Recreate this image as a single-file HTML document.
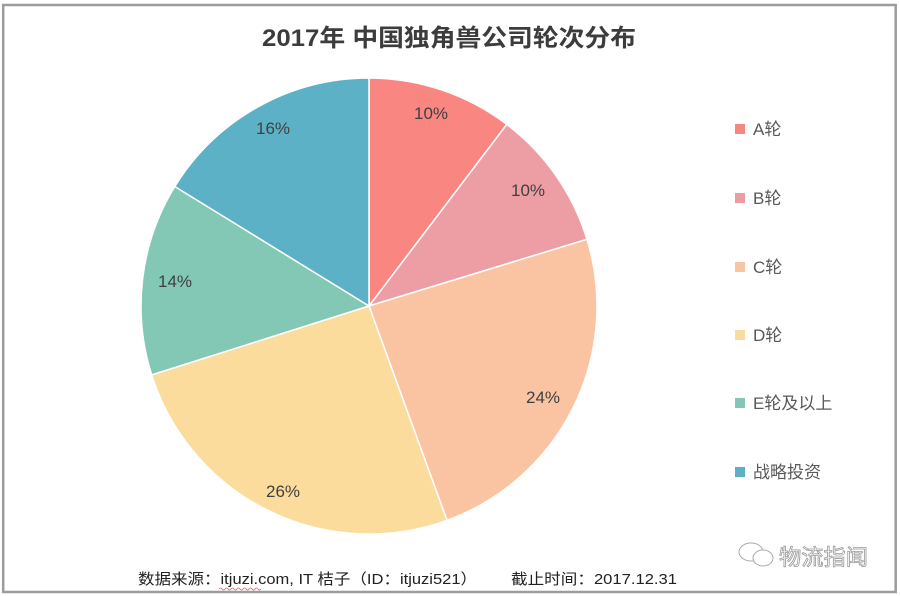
<!DOCTYPE html>
<html><head><meta charset="utf-8"><style>
html,body{margin:0;padding:0;background:#fff;}
svg{display:block;}
text{font-family:"Liberation Sans","Noto Sans CJK SC",sans-serif;}
</style></head><body>
<svg width="900" height="596" viewBox="0 0 900 596" xmlns="http://www.w3.org/2000/svg">
<rect x="0" y="0" width="900" height="596" fill="#fff"/>
<rect x="3.2" y="5" width="892.5" height="587" fill="#fff" stroke="#9c9c9c" stroke-width="2.5"/>
<text x="449" y="46" text-anchor="middle" font-size="24" font-weight="bold" fill="#3c3c3c" textLength="374" lengthAdjust="spacingAndGlyphs">2017年 中国独角兽公司轮次分布</text>
<g stroke="#fff" stroke-width="1.5" stroke-linejoin="round">
<path d="M369,306 L369,78 A228,228 0 0 1 506.8,124.4 Z" fill="#FA8681"/>
<path d="M369,306 L506.8,124.4 A228,228 0 0 1 587,239.3 Z" fill="#EC9EA4"/>
<path d="M369,306 L587,239.3 A228,228 0 0 1 447,520.3 Z" fill="#FAC4A3"/>
<path d="M369,306 L447,520.3 A228,228 0 0 1 151.7,374.9 Z" fill="#FCDC9D"/>
<path d="M369,306 L151.7,374.9 A228,228 0 0 1 174.8,186.5 Z" fill="#82C8B5"/>
<path d="M369,306 L174.8,186.5 A228,228 0 0 1 369,78 Z" fill="#5DB1C6"/>
</g>
<g font-size="17" fill="#404040" text-anchor="middle">
<text x="431" y="119">10%</text>
<text x="528" y="196">10%</text>
<text x="543" y="403">24%</text>
<text x="283" y="497">26%</text>
<text x="175" y="287">14%</text>
<text x="273" y="134">16%</text>
</g>
<g font-size="17" fill="#595959">
<rect x="735" y="124" width="10" height="10" fill="#F58782"/><text x="753" y="135">A轮</text>
<rect x="735" y="193" width="10" height="10" fill="#EA9DA3"/><text x="753" y="204">B轮</text>
<rect x="735" y="262" width="10" height="10" fill="#F7C4A4"/><text x="753" y="273">C轮</text>
<rect x="735" y="330" width="10" height="10" fill="#F9DB9F"/><text x="753" y="341">D轮</text>
<rect x="735" y="398" width="10" height="10" fill="#84C6B5"/><text x="753" y="409">E轮及以上</text>
<rect x="735" y="467" width="10" height="10" fill="#5FB0C5"/><text x="753" y="478">战略投资</text>
</g>
<g font-size="15" fill="#222">
<text x="138" y="584" textLength="339" lengthAdjust="spacingAndGlyphs">数据来源：itjuzi.com, IT 桔子（ID：itjuzi521）</text>
<text x="511" y="584" textLength="166" lengthAdjust="spacingAndGlyphs">截止时间：2017.12.31</text>
</g>
<path d="M219,589 q1.5,-2 3,0 t3,0 t3,0 t3,0 t3,0 t3,0 t3,0 t3,0 t3,0 t3,0 t3,0 t3,0 t3,0 t3,0" fill="none" stroke="#e06060" stroke-width="0.8"/>
<g fill="none" stroke="#aaa" stroke-width="1">
<ellipse cx="751" cy="552" rx="12" ry="9"/>
<ellipse cx="763" cy="558" rx="10" ry="8" fill="#fff"/>
</g>
<text x="779" y="565" font-size="22" fill="#fff" stroke="#9a9a9a" stroke-width="0.8" textLength="89" lengthAdjust="spacingAndGlyphs">物流指闻</text>
</svg>
</body></html>
